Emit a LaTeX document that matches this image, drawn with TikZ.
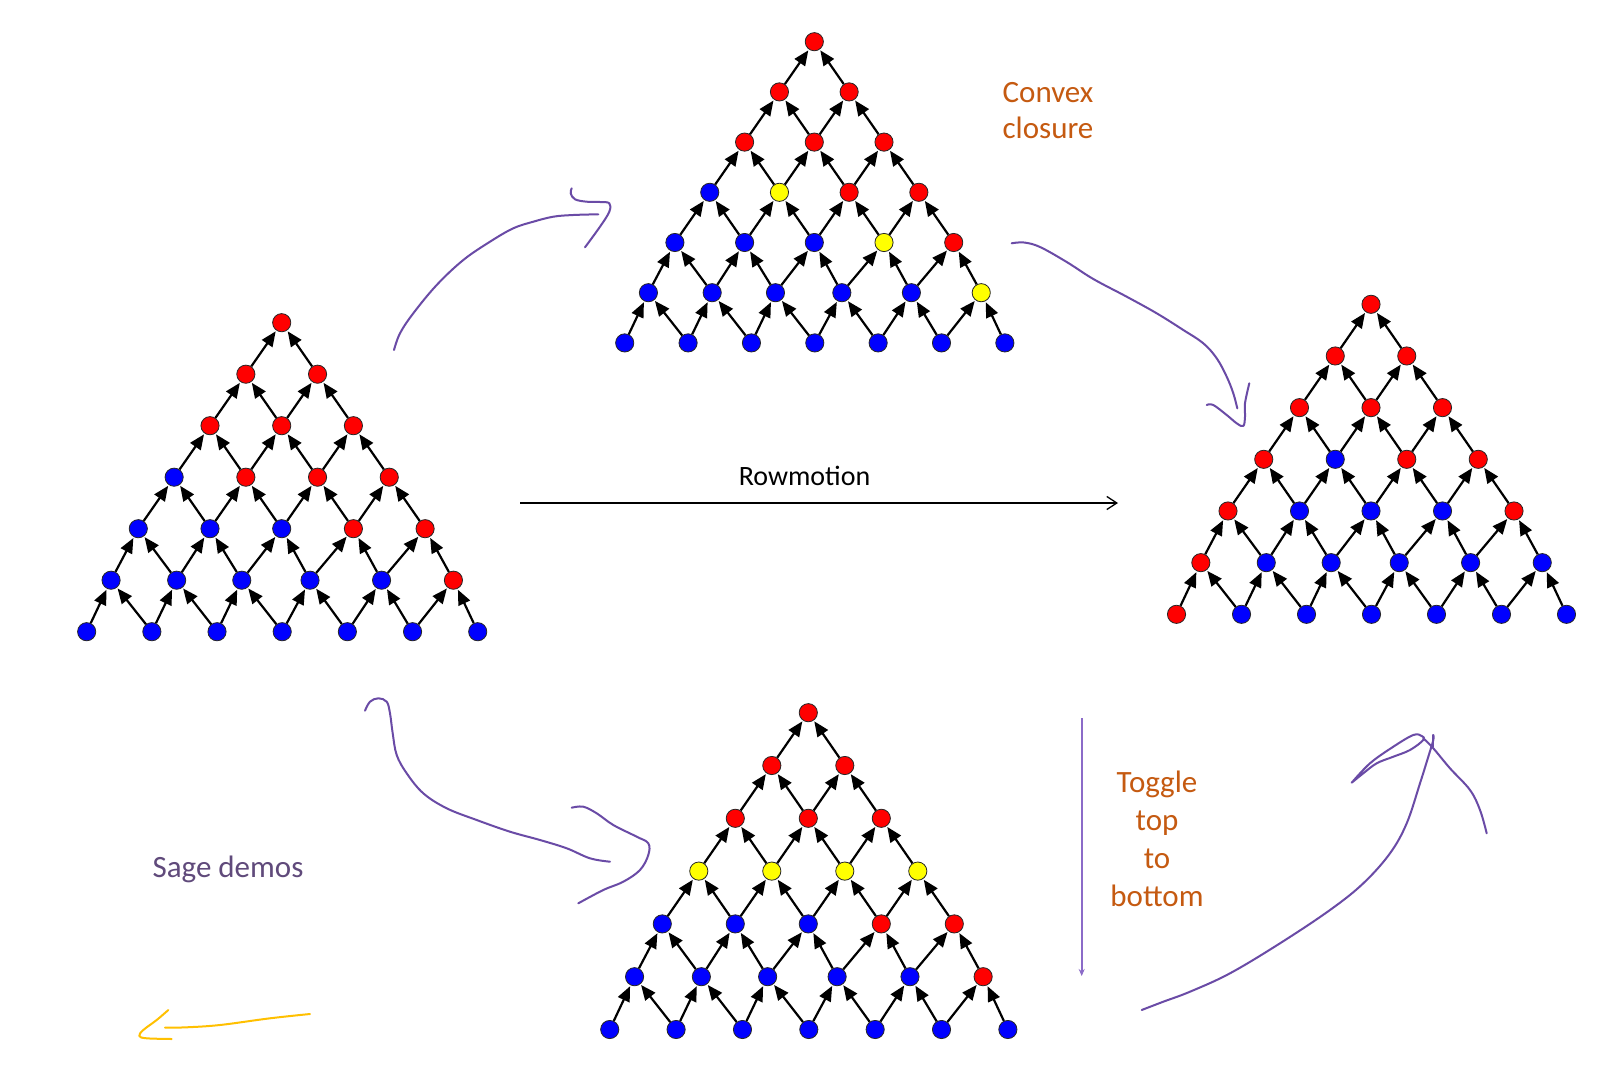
\documentclass[tikz,border=0pt]{standalone}
\usepackage{fontspec}
\setmainfont{Carlito}
\usetikzlibrary{arrows.meta}
\definecolor{pcR}{HTML}{FF0000}
\definecolor{pcB}{HTML}{0000FF}
\definecolor{pcY}{HTML}{FFFF00}
\definecolor{orangetxt}{HTML}{C55A11}
\definecolor{purpletxt}{HTML}{604A7B}
\definecolor{penpurple}{HTML}{6A4BA6}
\definecolor{lightpurple}{HTML}{8B6BC8}
\definecolor{pengold}{HTML}{FFC000}
\tikzset{
  pnode/.style={circle,draw=black!85,line width=0.8pt,minimum size=18.2pt,inner sep=0pt},
  pedge/.style={line width=2.2pt,-{Triangle[length=15pt,width=12.5pt]},shorten >=1pt},
  pen/.style={penpurple,line width=2pt,line cap=round,line join=round},
  goldpen/.style={pengold,line width=2pt,line cap=round,line join=round},
  otext/.style={text=orangetxt,align=center,inner sep=0pt,font=\fontsize{31}{36}\selectfont},
  ptext/.style={text=purpletxt,inner sep=0pt,font=\fontsize{31}{36}\selectfont},
  btext/.style={text=black,inner sep=0pt,font=\fontsize{28}{32}\selectfont}
}
\newcommand\drawposet[6]{%
  \foreach \prow [count=\prr from 0] in {#6} {%
    \foreach \pcc [count=\pii from 0] in \prow {%
      \ifnum\prr=5 \pgfmathsetmacro\poff{{-2.38,-1.465,-0.557,0.395,1.393,2.395}[\pii]}%
      \else\ifnum\prr=6 \pgfmathsetmacro\poff{-2.72+0.909*\pii}%
      \else\pgfmathsetmacro\poff{\pii-\prr/2}\fi\fi
      \node[pnode,fill=pc\pcc] (#1-\prr-\pii) at ({#2+\poff*#4},{#3+\prr*#5}) {};
    }%
  }%
  \foreach \prr in {0,...,5} {%
    \foreach \pii in {0,...,\prr} {%
      \pgfmathtruncatemacro\pnn{\prr+1}%
      \pgfmathtruncatemacro\pjj{\pii+1}%
      \draw[pedge] (#1-\pnn-\pii) -- (#1-\prr-\pii);
      \draw[pedge] (#1-\pnn-\pjj) -- (#1-\prr-\pii);
    }%
  }%
}
\begin{document}
\begin{tikzpicture}[x=1pt,y=-1pt]
\fill[white] (0,0) rectangle (1618,1082);
\useasboundingbox (0,0) rectangle (1618,1082);
% posets
\drawposet{A}{281.7}{322.7}{71.7}{51.5}{{R},{R,R},{R,R,R},{B,R,R,R},{B,B,B,R,R},{B,B,B,B,B,R},{B,B,B,B,B,B,B}}
\drawposet{B}{814.3}{41.7}{69.7}{50.2}{{R},{R,R},{R,R,R},{B,Y,R,R},{B,B,B,Y,R},{B,B,B,B,B,Y},{B,B,B,B,B,B,B}}
\drawposet{C}{1371}{304.3}{71.5}{51.67}{{R},{R,R},{R,R,R},{R,B,R,R},{R,B,B,B,R},{R,B,B,B,B,B},{R,B,B,B,B,B,B}}
\drawposet{D}{808.3}{712.7}{73}{52.8}{{R},{R,R},{R,R,R},{Y,Y,Y,Y},{B,B,B,R,R},{B,B,B,B,B,R},{B,B,B,B,B,B,B}}
% texts
\node[otext] (convex) at (1048,111) {Convex\\closure};
\node[otext,font=\fontsize{31}{37.8}\selectfont] (toggle) at (1157,839) {Toggle\\top\\to\\bottom};
\node[ptext] (sage) at (228,869) {Sage demos};
\node[btext] (rowmotion) at (804.5,476) {Rowmotion};
% rowmotion arrow
\coordinate (rmL) at (520,503);
\coordinate (rmR) at (1118,503);
\draw[line width=1.3pt,-{Straight Barb[length=10pt,width=13pt]}] (rmL) -- (rmR);
% toggle arrow
\coordinate (tgT) at (1081.7,718);
\coordinate (tgB) at (1081.7,976);
\draw[lightpurple,line width=1.8pt,-{Stealth[length=7pt,width=6pt]}] (tgT) -- (tgB);
% hand drawn strokes
\draw[pen] plot[smooth,tension=0.6] coordinates {(394,350) (400,333.3) (413.3,313.3) (436.7,285) (463.3,260) (490,241.7) (513.3,228.3) (533.3,221.7) (553.3,216.7) (573.3,215) (598.3,214.3)};
\draw[pen] plot[smooth,tension=0.6] coordinates {(571.7,188.3) (570.7,193.3) (575,199.3) (586.7,201.7) (600,202) (609.3,203.3) (609.3,211.7) (600,226.7) (585,247.3)};
\draw[pen] plot[smooth,tension=0.6] coordinates {(1011.7,243.3) (1024,242.5) (1040,247) (1066.7,262) (1093.3,279) (1126.7,296.7) (1156.7,313.3) (1183.3,330) (1203.3,343.3) (1216.7,358.3) (1226.7,376.7) (1233.3,393.3) (1237.3,408.3)};
\draw[pen] plot[smooth,tension=0.6] coordinates {(1206.7,405) (1213.3,405) (1226.7,415) (1236.7,423.3) (1243.3,426) (1245,416.7) (1245,403.3) (1249.3,383.3)};
\draw[pen] plot[smooth,tension=0.6] coordinates {(365,710.7) (370,701.7) (378.3,698.3) (386.7,701.7) (390,713.3) (392.7,733.3) (396.7,755) (406.7,773.3) (423.3,793.3) (446.7,808.3) (476.7,820) (510,831.7) (540,840) (566.7,848.3) (590,858.3) (610,861.7)};
\draw[pen] plot[smooth,tension=0.6] coordinates {(571.7,807.7) (583.3,806.7) (596.7,813.3) (613.3,825) (636.7,836.7) (648.3,843.3) (648.3,855) (640,870) (623.3,881.7) (603.3,890) (578.3,903.3)};
\draw[pen] plot[smooth,tension=0.6] coordinates {(1141.7,1010) (1163.3,1001.7) (1190,991.7) (1230,973.3) (1280,943.3) (1330,910) (1363.3,883.3) (1390,853.3) (1406.7,823.3) (1420,783.3) (1428.3,756.7) (1433.3,740) (1433.3,735)};
\draw[pen] (1433.3,735) -- (1433.3,746.7);
\draw[pen] plot[smooth,tension=0.6] coordinates {(1351.7,782.7) (1370,763.3) (1393.3,746.7) (1413.3,735) (1421.7,736) (1423.3,740) (1410,750) (1393.3,756.7) (1376.7,763.3) (1363.3,773.3) (1351.7,782.7)};
\draw[pen] plot[smooth,tension=0.6] coordinates {(1423.3,738.3) (1433.3,748.3) (1450,768.3) (1470,790) (1480,810) (1486.7,833.3)};
\draw[goldpen] plot[smooth,tension=0.6] coordinates {(310,1014) (270,1018.3) (220,1025) (186.7,1027.3) (165,1027.7)};
\draw[goldpen] plot[smooth,tension=0.6] coordinates {(168.3,1010) (156.7,1020) (143.3,1030) (139.3,1036) (146.7,1038.3) (171.7,1039)};
\end{tikzpicture}
\end{document}
